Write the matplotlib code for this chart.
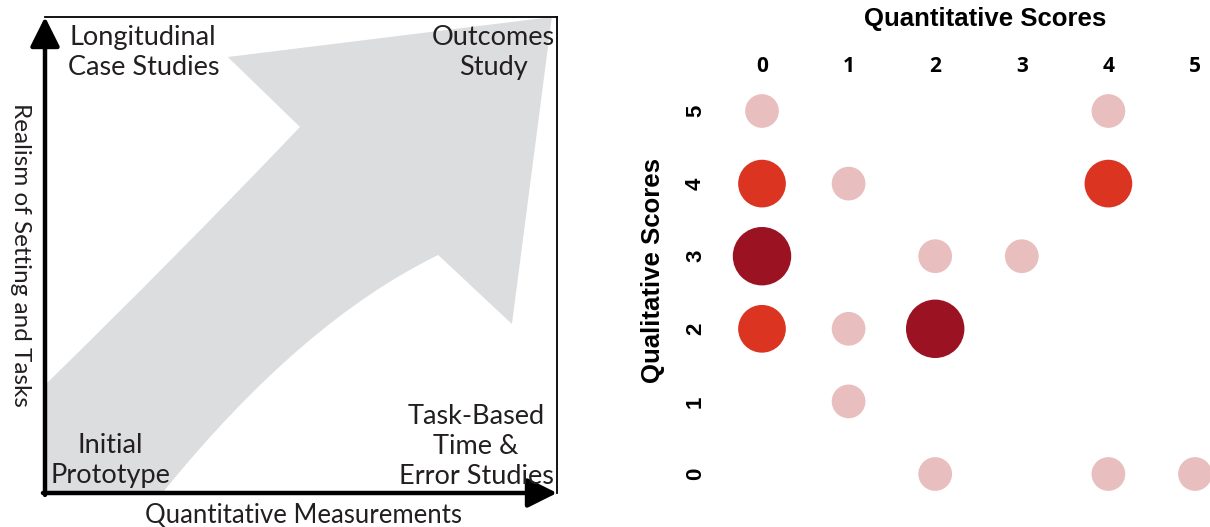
import numpy as np
import matplotlib
matplotlib.use('Agg')
from matplotlib import pyplot as plt
from matplotlib.patches import PathPatch
from matplotlib.path import Path

# ---------------- data ----------------
# left diagram: corner labels and the big gray arrow outline (axes fraction)
corner_labels = ['Longitudinal\nCase Studies', 'Outcomes\nStudy',
                 'Initial\nPrototype', 'Task-Based\nTime &\nError Studies']
arrow_verts = [(0.0, 0.0), (0.0, 0.227),
               (0.26, 0.50), (0.498, 0.769),          # upper edge (slight curve)
               (0.357, 0.916), (0.99, 1.0), (0.912, 0.355), (0.768, 0.5),
               (0.50, 0.36), (0.229, 0.0),            # lower edge (curve)
               (0.0, 0.0)]
arrow_codes = [Path.MOVETO, Path.LINETO,
               Path.CURVE3, Path.CURVE3,
               Path.LINETO, Path.LINETO, Path.LINETO, Path.LINETO,
               Path.CURVE3, Path.CURVE3,
               Path.CLOSEPOLY]

# right chart: bubble positions and counts
quant_scores = [0, 4, 0, 1, 4, 0, 2, 3, 0, 1, 2, 1, 2, 4, 5]
qual_scores  = [5, 5, 4, 4, 4, 3, 3, 3, 2, 2, 2, 1, 0, 0, 0]
counts       = [1, 1, 2, 1, 2, 3, 1, 1, 2, 1, 3, 1, 1, 1, 1]
score_ticks = [0, 1, 2, 3, 4, 5]
count_colors = {1: '#E8BFBE', 2: '#DB3522', 3: '#9B1223'}

W, H = 1210, 527
fig = plt.figure(figsize=(W / 100, H / 100), dpi=100)


def px_axes(x0, y0, x1, y1):
    # pixel box (top-left origin) -> figure axes
    return fig.add_axes([x0 / W, 1 - y1 / H, (x1 - x0) / W, (y1 - y0) / H])


# ---------------- left: research design diagram ----------------
ax1 = px_axes(45, 17, 557, 493)
ax1.set_xlim(0, 1)
ax1.set_ylim(0, 1)
ax1.set_xticks([])
ax1.set_yticks([])
ax1.add_patch(PathPatch(Path(arrow_verts, arrow_codes), facecolor='#DCDDDF',
                        edgecolor='none'))
for s in ['top', 'right']:
    ax1.spines[s].set_linewidth(1.3)
for s in ['left', 'bottom']:
    ax1.spines[s].set_visible(False)

arrow_kw = dict(arrowstyle='-|>,head_length=0.9,head_width=0.45', lw=3.2, color='black',
                mutation_scale=20, shrinkA=0, shrinkB=0)
ax1.annotate('', xy=(0, 1.0), xytext=(0, -0.004), xycoords='axes fraction',
             arrowprops=arrow_kw, annotation_clip=False)
ax1.annotate('', xy=(1.0, 0), xytext=(-0.004, 0), xycoords='axes fraction',
             arrowprops=arrow_kw, annotation_clip=False)

lab_font = dict(family=['Lato', 'DejaVu Sans'], fontsize=19.5, color='#231F20',
                linespacing=1.25, ha='center')
label_pos = [(0.192, 0.984, 'top'), (0.876, 0.984, 'top'),
             (0.127, 0.01, 'bottom'), (0.842, 0.008, 'bottom')]
for txt, (x, y, va) in zip(corner_labels, label_pos):
    ax1.text(x, y, txt, va=va, transform=ax1.transAxes, **lab_font)

ax1.text(0.504, -0.02, 'Quantitative Measurements', va='top', transform=ax1.transAxes,
         **dict(lab_font, fontsize=18.5))
ax1.text(-0.048, 0.5, 'Realism of Setting and Tasks', va='center', rotation=270,
         transform=ax1.transAxes, **dict(lab_font, fontsize=17.5))

# ---------------- right: bubble chart ----------------
ax2 = px_axes(720, 80, 1210, 510)
px_x = 86.6
px_y = 72.6
ax2.set_xlim(0 - 42 / px_x, 5 + 15 / px_x)
ax2.set_ylim(0 - 36 / px_y, 5 + 31 / px_y)
colors = [count_colors[c] for c in counts]
ax2.scatter(quant_scores, qual_scores, s=[590 * c for c in counts], c=colors,
            edgecolors='none', clip_on=False)
for s in ax2.spines.values():
    s.set_visible(False)
ax2.xaxis.tick_top()
ax2.set_xticks(score_ticks)
ax2.set_xticklabels([str(t) for t in score_ticks], fontsize=15, fontweight='bold',
                    family=['Open Sans', 'DejaVu Sans'])
ax2.set_yticks(score_ticks)
ax2.set_yticklabels([str(t) for t in score_ticks], fontsize=16, fontweight='bold',
                    family=['Liberation Sans', 'DejaVu Sans'], rotation=90, va='center')
ax2.tick_params(axis='x', length=0, pad=2)
ax2.tick_params(axis='y', length=0, pad=10)

bold_font = dict(fontsize=18.5, fontweight='bold', family=['Liberation Sans', 'DejaVu Sans'],
                 ha='center', va='center')
fig.text(985 / W, 1 - 19 / H, 'Quantitative Scores', **bold_font)
ax2.text(-0.137, 0.556, 'Qualitative Scores', rotation=90, transform=ax2.transAxes,
         **bold_font)

fig.savefig('out.png', dpi=100)
